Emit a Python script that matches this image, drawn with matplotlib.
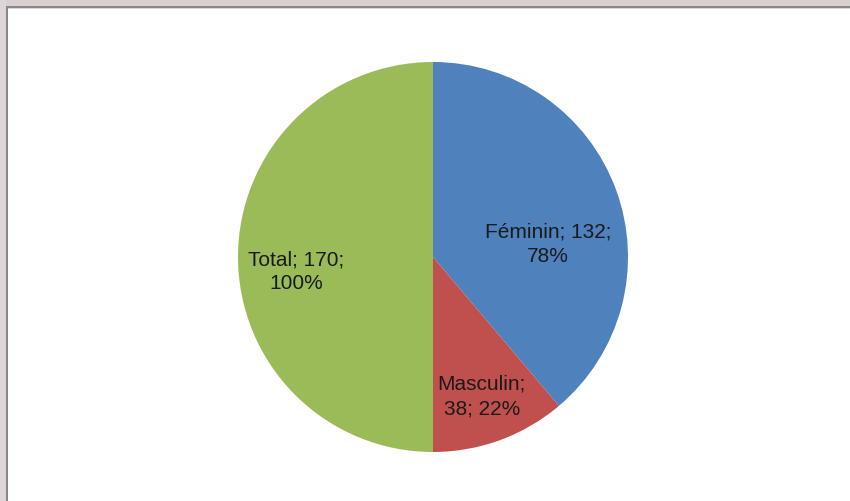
import matplotlib.pyplot as plt
from matplotlib.patches import Rectangle

categories = ['Féminin', 'Masculin', 'Total']
values = [132, 38, 170]
percents = [78, 22, 100]
colors = ['#4f81bd', '#c0504d', '#9bbb59']

W, H = 850, 502
fig = plt.figure(figsize=(W / 100, H / 100), dpi=100)
fig.patch.set_facecolor('white')

# window frame (grey strips + dark border)
def px_rect(x, y, w, h, color):
    fig.add_artist(Rectangle((x / W, 1 - (y + h) / H), w / W, h / H,
                             transform=fig.transFigure, color=color, lw=0))

px_rect(0, 0, W, 7, '#d9d0d0')
px_rect(0, 0, 6, H, '#ded6d6')
px_rect(6, 7, W, 2, '#878787')
px_rect(6, 7, 2, H, '#878787')
px_rect(8, 9, W, 1, '#d8d8d8')

cx, cy, r = 433, 258, 195
ax = fig.add_axes([(cx - r) / W, 1 - (cy + r) / H, 2 * r / W, 2 * r / H])

labels = [f'{c}; {v};\n{p}%' for c, v, p in zip(categories, values, percents)]
labels[1] = f'{categories[1]};\n{values[1]}; {percents[1]}%'

wedges, texts = ax.pie(values, colors=colors, startangle=90, counterclock=False,
                       labels=labels, labeldistance=0.71,
                       textprops=dict(fontsize=15, family='Liberation Sans',
                                      color='#1a1a1a', ha='center', va='center',
                                      linespacing=1.35))
texts[0].set_position((0.59, 0.07))
texts[1].set_position((0.25, -0.71))
texts[2].set_position((-0.70, -0.07))
ax.set_xlim(-1, 1)
ax.set_ylim(-1, 1)
ax.set_aspect('auto')
ax.axis('off')

fig.savefig('out.png', dpi=100)
